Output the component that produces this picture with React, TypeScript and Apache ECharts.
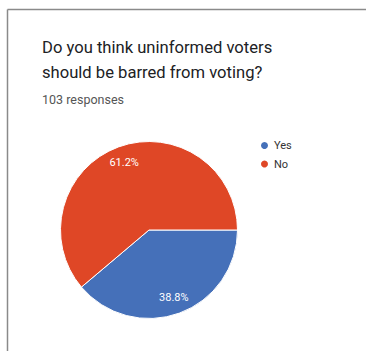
import React, { useEffect, useRef } from "react";
import * as echarts from "echarts";

const categories = ["Yes", "No"];
const counts = [40, 63];
const colors = ["#4570b9", "#df4726"];
const titleLines = ["Do you think uninformed voters", "should be barred from voting?"];
const subtitle = "103 responses";

export default function App() {
  const ref = useRef<HTMLDivElement>(null);
  useEffect(() => {
    document.body.style.margin = "0";
    const chart = echarts.init(ref.current!, null, { renderer: "svg" });
    const data = categories.map((name, i) => ({ name, value: counts[i], itemStyle: { color: colors[i] } }));
    const total = counts.reduce((a, b) => a + b, 0);
    chart.setOption({
      animation: false,
      backgroundColor: "#ffffff",
      legend: {
        orient: "vertical",
        left: 254,
        top: 135,
        icon: "circle",
        itemWidth: 9,
        itemHeight: 9,
        itemGap: 7.5,
        data: categories,
        textStyle: { fontFamily: "Roboto", fontSize: 11, color: "#333333" },
        selectedMode: false,
      },
      graphic: [
        { type: "line", shape: { x1: 7.5, y1: 9.5, x2: 366, y2: 9.5 }, style: { stroke: "#8a8a8a", lineWidth: 1.5 } },
        { type: "line", shape: { x1: 7.5, y1: 9.5, x2: 7.5, y2: 351 }, style: { stroke: "#8a8a8a", lineWidth: 1.5 } },
        {
          type: "text", x: 42, y: 47,
          style: { text: titleLines[0], fontFamily: "Roboto", fontSize: 16.6, fill: "#202124", verticalAlign: "middle" },
        },
        {
          type: "text", x: 42, y: 72,
          style: { text: titleLines[1], fontFamily: "Roboto", fontSize: 16.6, fill: "#202124", verticalAlign: "middle" },
        },
        {
          type: "text", x: 42, y: 99,
          style: { text: subtitle, fontFamily: "Roboto", fontSize: 12.5, fill: "#555555", verticalAlign: "middle" },
        },
      ],
      series: [
        {
          type: "pie",
          center: [149, 230],
          radius: [0, 88.5],
          startAngle: 0,
          clockwise: true,
          data,
          label: { show: false },
          labelLine: { show: false },
          itemStyle: { borderColor: "#ffffff", borderWidth: 1 },
          silent: true,
        },
        {
          type: "pie",
          center: [149, 230],
          radius: [50, 88.5],
          startAngle: 0,
          clockwise: true,
          data: categories.map((name, i) => ({ name: name + "_l", value: counts[i], itemStyle: { color: "rgba(0,0,0,0)" } })),
          label: {
            show: true,
            position: "inside",
            color: "#ffffff",
            fontFamily: "Roboto",
            fontSize: 11,
            formatter: (p: any) => ((p.value / total) * 100).toFixed(1) + "%",
          },
          labelLine: { show: false },
          silent: true,
        },
      ],
    });
    return () => chart.dispose();
  }, []);
  return <div ref={ref} style={{ position: "absolute", left: 0, top: 0, width: 366, height: 351 }} />;
}
